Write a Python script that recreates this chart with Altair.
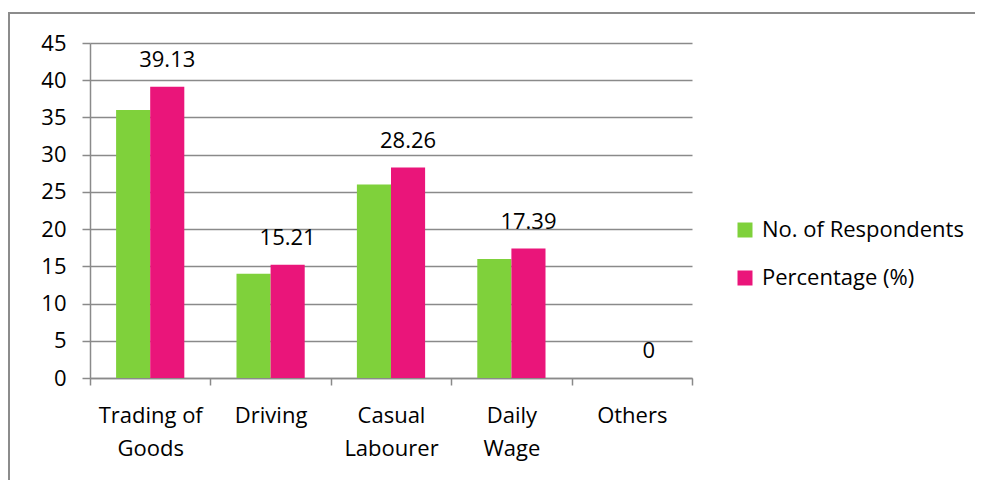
import altair as alt
import pandas as pd

categories = ["Trading of Goods", "Driving", "Casual Labourer", "Daily Wage", "Others"]
respondents = [36, 14, 26, 16, 0]
percentage = [39.13, 15.21, 28.26, 17.39, 0]
series_names = ["No. of Respondents", "Percentage (%)"]
colors = ["#7fd13b", "#ea157a"]
y_ticks = [0, 5, 10, 15, 20, 25, 30, 35, 40, 45]

rows = []
for c, r, p in zip(categories, respondents, percentage):
    rows.append({"category": c, "series": series_names[0], "value": r})
    rows.append({"category": c, "series": series_names[1], "value": p})
df = pd.DataFrame(rows)

FONT = "Open Sans"
FS = 22
GRID = "#8a8a8a"

x_enc = alt.X(
    "category:N",
    sort=categories,
    title=None,
    scale=alt.Scale(paddingInner=0, paddingOuter=0),
    axis=alt.Axis(
        labelAngle=0,
        tickBand="extent",
        tickSize=7,
        tickColor=GRID,
        tickWidth=1.5,
        domainColor=GRID,
        domainWidth=1.5,
        labelPadding=20,
        labelLineHeight=33,
        labelBaseline="top",
        labelExpr="datum.value ? (datum.value == 'Trading of Goods' ? ['Trading of', 'Goods'] : split(datum.value, ' ')) : ''",
        grid=False,
    ),
)

y_enc = alt.Y(
    "value:Q",
    title=None,
    scale=alt.Scale(domain=[0, 45], nice=False),
    axis=alt.Axis(
        values=y_ticks,
        grid=True,
        gridColor=GRID,
        gridWidth=1.5,
        tickSize=8,
        tickColor=GRID,
        tickWidth=1.5,
        domainColor=GRID,
        domainWidth=1.5,
        labelPadding=16,
        labelOverlap=False,
    ),
)

xoff = alt.XOffset(
    "series:N",
    sort=series_names,
    scale=alt.Scale(domain=series_names, paddingInner=0, paddingOuter=0.765),
)

bars = alt.Chart(df).mark_bar().encode(
    x=x_enc,
    xOffset=xoff,
    y=y_enc,
    color=alt.Color(
        "series:N",
        sort=series_names,
        scale=alt.Scale(domain=series_names, range=colors),
        legend=alt.Legend(
            title=None,
            orient="none",
            legendX=644,
            legendY=176,
            symbolType="square",
            symbolSize=225,
            symbolStrokeWidth=0,
            rowPadding=26,
            labelOffset=6,
            labelLimit=0,
        ),
    ),
)

labels = alt.Chart(df).transform_filter(
    alt.datum.series == series_names[1]
).mark_text(baseline="bottom", dy=-15, font=FONT, fontSize=FS, color="black").encode(
    x=x_enc,
    xOffset=xoff,
    y=y_enc,
    text=alt.Text("value:Q", format="~g"),
)

border_top = alt.Chart(df).mark_rule(color="#8c8c8c", strokeWidth=2).encode(
    x=alt.value(-82), x2=alt.value(890), y=alt.value(-30)
)
border_left = alt.Chart(df).mark_rule(color="#8c8c8c", strokeWidth=2).encode(
    x=alt.value(-81), y=alt.value(-31), y2=alt.value(440)
)

chart = alt.layer(bars, labels, border_top, border_left).properties(
    width=602,
    height=335,
    autosize=alt.AutoSizeParams(type="none"),
    padding={"left": 82, "top": 35, "right": 283, "bottom": 102},
).configure_view(stroke=None).configure_axis(
    labelFont=FONT, labelFontSize=FS, labelColor="black"
).configure_legend(
    labelFont=FONT, labelFontSize=FS, labelColor="black"
)

chart.save("out.html", embed_options={"renderer": "svg", "actions": False})
